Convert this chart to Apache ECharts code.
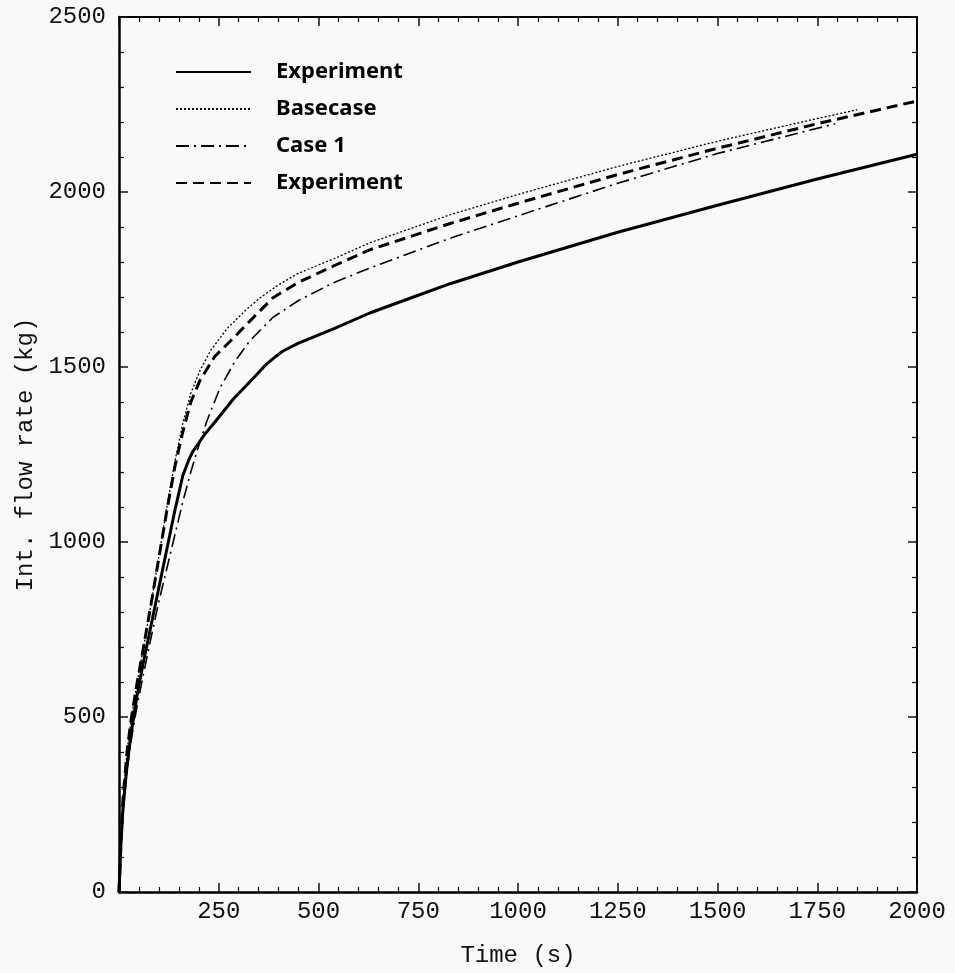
<!DOCTYPE html>
<html>
<head>
<meta charset="utf-8">
<title>Integrated flow rate</title>
<script src="https://cdn.jsdelivr.net/npm/echarts@6/dist/echarts.min.js"></script>
<style>
  html, body { margin: 0; padding: 0; background: #f9f9f9; }
  #chart { width: 955px; height: 973px; }
</style>
</head>
<body>
<div id="chart"></div>
<script>
// Integrated flow rate (kg) versus time (s)
const xTicks = [0, 250, 500, 750, 1000, 1250, 1500, 1750, 2000];
const yTicks = [0, 500, 1000, 1500, 2000, 2500];

const expTime = [0, 5, 10, 20, 30, 45, 60, 80, 100, 120, 140, 160, 175, 185, 195, 215, 240, 286, 340, 365, 386, 410, 450, 536, 630, 750, 830, 1000, 1250, 1500, 1750, 2000];
const expFlow = [0, 140, 240, 360, 450, 560, 650, 760, 870, 980, 1090, 1190, 1235, 1258, 1275, 1308, 1342, 1408, 1472, 1503, 1524, 1545, 1568, 1608, 1655, 1705, 1738, 1800, 1885, 1962, 2037, 2108];

const baseTime = [0, 5, 10, 20, 30, 45, 60, 80, 100, 120, 140, 160, 180, 203, 230, 271, 320, 353, 400, 450, 540, 629, 830, 1000, 1250, 1500, 1750, 1850];
const baseFlow = [0, 150, 265, 400, 490, 595, 690, 820, 960, 1100, 1230, 1340, 1425, 1490, 1548, 1610, 1665, 1697, 1735, 1768, 1810, 1855, 1935, 1993, 2073, 2145, 2210, 2235];

const case1Time = [0, 5, 10, 20, 30, 45, 60, 80, 100, 120, 140, 160, 180, 195, 220, 253, 290, 328, 386, 450, 536, 629, 830, 1000, 1250, 1500, 1795];
const case1Flow = [0, 130, 225, 345, 430, 530, 615, 725, 830, 925, 1020, 1115, 1200, 1258, 1345, 1440, 1515, 1575, 1642, 1690, 1740, 1783, 1868, 1932, 2025, 2110, 2195];

const exp2Time = [0, 5, 10, 20, 30, 45, 60, 80, 100, 120, 140, 160, 180, 203, 240, 286, 340, 386, 450, 540, 629, 830, 1000, 1250, 1500, 1750, 2000];
const exp2Flow = [0, 150, 265, 400, 490, 595, 690, 820, 955, 1090, 1215, 1315, 1400, 1462, 1530, 1582, 1645, 1698, 1742, 1790, 1835, 1910, 1968, 2050, 2125, 2195, 2260];

const seriesNames = ['Experiment', 'Basecase', 'Case 1', 'Experiment '];

function pairs(xs, ys) { return xs.map((x, i) => [x, ys[i]]); }

const monoFont = '"Liberation Mono", "DejaVu Sans Mono", monospace';
const ink = '#111';

const chart = echarts.init(document.getElementById('chart'), null, { renderer: 'canvas' });

const tickCommon = { show: true, inside: true, length: 9, lineStyle: { color: ink, width: 1.5 } };
const minorCommon = { show: true, splitNumber: 5, length: 5, lineStyle: { color: ink, width: 1.2 } };

function lineSeries(name, data, width, type) {
  return {
    name: name,
    type: 'line',
    data: data,
    showSymbol: false,
    symbol: 'none',
    smooth: false,
    clip: true,
    xAxisIndex: 0,
    yAxisIndex: 0,
    itemStyle: { color: '#000' },
    lineStyle: { color: '#000', width: width, type: type, join: 'round', cap: 'butt' },
    emphasis: { disabled: true }
  };
}

chart.setOption({
  backgroundColor: '#f9f9f9',
  animation: false,
  grid: { left: 119, right: 38, top: 17, bottom: 79, containLabel: false },
  legend: {
    orient: 'vertical',
    left: 175,
    top: 60,
    padding: 0,
    itemWidth: 75,
    itemHeight: 14,
    itemGap: 13,
    data: seriesNames,
    formatter: n => n.trim(),
    selectedMode: false,
    itemStyle: { opacity: 0 },
    textStyle: {
      fontFamily: '"Noto Sans", "DejaVu Sans", sans-serif',
      fontWeight: 'bold',
      fontSize: 22,
      lineHeight: 24,
      color: '#000',
      padding: [0, 0, 0, 20]
    }
  },
  xAxis: [
    {
      type: 'value', min: 0, max: 2000, interval: 250,
      position: 'bottom',
      name: 'Time (s)', nameLocation: 'middle', nameGap: 52,
      nameTextStyle: { fontFamily: monoFont, fontSize: 24, color: ink },
      axisLine: { show: true, onZero: false, lineStyle: { color: '#000', width: 2.5 } },
      axisTick: tickCommon,
      minorTick: minorCommon,
      splitLine: { show: false },
      axisLabel: { showMinLabel: false, fontFamily: monoFont, fontSize: 24, color: ink, margin: 8, formatter: v => String(v) }
    },
    {
      type: 'value', min: 0, max: 2000, interval: 250,
      position: 'top',
      axisLine: { show: true, onZero: false, lineStyle: { color: '#000', width: 2 } },
      axisTick: tickCommon,
      minorTick: minorCommon,
      splitLine: { show: false },
      axisLabel: { show: false }
    }
  ],
  yAxis: [
    {
      type: 'value', min: 0, max: 2500, interval: 500,
      position: 'left',
      name: 'Int. flow rate (kg)', nameLocation: 'middle', nameGap: 72,
      nameTextStyle: { fontFamily: monoFont, fontSize: 24, color: ink },
      axisLine: { show: true, onZero: false, lineStyle: { color: '#000', width: 2.5 } },
      axisTick: tickCommon,
      minorTick: minorCommon,
      splitLine: { show: false },
      axisLabel: { fontFamily: monoFont, fontSize: 24, color: ink, margin: 13, formatter: v => String(v) }
    },
    {
      type: 'value', min: 0, max: 2500, interval: 500,
      position: 'right',
      axisLine: { show: true, onZero: false, lineStyle: { color: '#000', width: 2 } },
      axisTick: tickCommon,
      minorTick: minorCommon,
      splitLine: { show: false },
      axisLabel: { show: false }
    }
  ],
  series: [
    lineSeries(seriesNames[0], pairs(expTime, expFlow), 3, 'solid'),
    lineSeries(seriesNames[1], pairs(baseTime, baseFlow), 1.3, [2, 2]),
    lineSeries(seriesNames[2], pairs(case1Time, case1Flow), 1.6, [13, 5, 2, 5]),
    lineSeries(seriesNames[3], pairs(exp2Time, exp2Flow), 3, [11, 6])
  ]
});
</script>
</body>
</html>
